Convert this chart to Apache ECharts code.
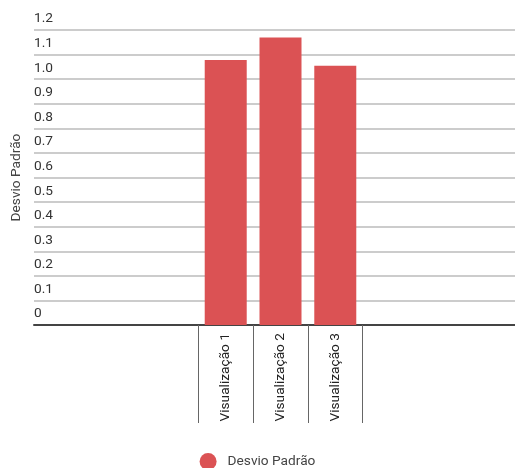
<!DOCTYPE html>
<html>
<head>
<meta charset="utf-8">
<script src="https://cdn.jsdelivr.net/npm/echarts@6/dist/echarts.min.js"></script>
<style>
  html, body { margin: 0; padding: 0; background: #fff; }
  #chart { width: 515px; height: 468px; }
</style>
</head>
<body>
<div id="chart"></div>
<script>
const categories = ["", "", "", "Visualização 1", "Visualização 2", "Visualização 3", "", "", ""];
const desvioPadrao = [null, null, null, 1.078, 1.17, 1.055, null, null, null];
const tickIndices = [3, 4, 5, 6];

(() => {
  let myChart = echarts.init(document.querySelector("#chart"));
  let option = {
    animation: false,
    textStyle: { fontFamily: "Roboto" },
    legend: {
      top: 453,
      left: "center",
      padding: 0,
      icon: "circle",
      itemWidth: 17,
      itemHeight: 17,
      itemGap: 10,
      textStyle: { color: "#444", fontSize: 13.7, padding: [0, 0, 0, 6] },
    },
    grid: { left: 34, top: 30, width: 493, height: 295, outerBoundsMode: "none" },
    xAxis: {
      type: "category",
      data: categories,
      axisLine: { show: true, lineStyle: { color: "#444", width: 2 } },
      axisTick: {
        show: true,
        length: 98,
        interval: (i) => tickIndices.includes(i),
        lineStyle: { color: "#666", width: 1 },
      },
      axisLabel: {
        interval: 0,
        rotate: 90,
        margin: 8,
        color: "#222",
        fontSize: 13.7,
      },
    },
    yAxis: {
      type: "value",
      min: 0,
      max: 1.2,
      interval: 0.1,
      name: "Desvio Padrão",
      nameLocation: "middle",
      nameGap: 7,
      nameTextStyle: { color: "#444", fontSize: 13.7 },
      axisLine: { show: false },
      axisTick: { show: false },
      axisLabel: {
        inside: true,
        margin: 0,
        verticalAlign: "bottom",
        padding: [0, 0, 4, 0],
        color: "#333",
        fontSize: 13.7,
        formatter: (v) => (v === 0 ? "0" : v.toFixed(1)),
      },
      splitLine: { lineStyle: { color: "#ccc", width: 2 } },
    },
    series: [
      {
        name: "Desvio Padrão",
        type: "bar",
        barWidth: 42,
        data: desvioPadrao,
        itemStyle: { color: "#db5254" },
      },
    ],
  };
  myChart.setOption(option);
  window.addEventListener("resize", () => {
    myChart.resize();
  });
})();
</script>
</body>
</html>
